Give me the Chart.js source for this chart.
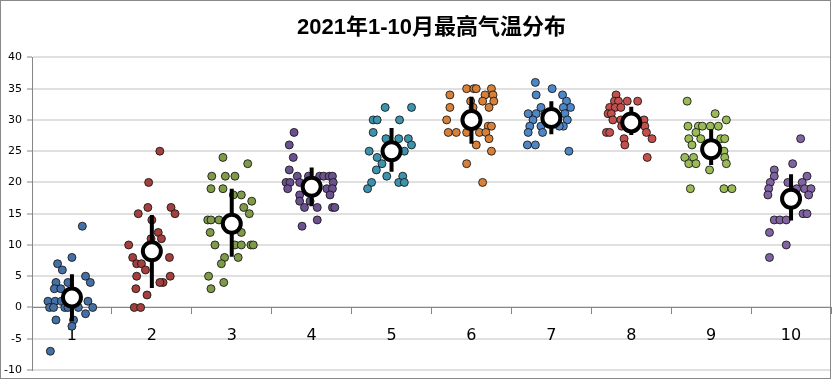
<!DOCTYPE html>
<html>
<head>
<meta charset="utf-8">
<script src="https://cdn.jsdelivr.net/npm/chart.js@4"></script>
<style>
  html, body { margin: 0; padding: 0; background: #fff; }
  canvas { display: block; }
</style>
</head>
<body>
<canvas id="chart" width="833" height="379"></canvas>
<script>
const months = [1, 2, 3, 4, 5, 6, 7, 8, 9, 10];

// daily max temperature per month, [x position (jittered), temp]
const m1 = [[1.13,13],[1.00,8],[0.82,7],[0.88,6],[1.17,5],[1.23,4],[0.80,4],[0.95,4],[0.78,3],[0.86,3],
  [0.70,1],[0.79,1],[0.87,1],[1.20,1],[0.72,0],[0.77,0],[0.91,0],[0.95,0],[1.26,0],[0.80,-2],
  [1.17,-1],[1.02,-2],[1.00,-3],[0.73,-7],[1.03,2],[0.97,1],[1.08,0]];
const m2 = [[2.10,25],[1.96,20],[1.95,16],[2.24,16],[1.83,15],[2.29,15],[2.00,14],[2.08,12],[2.12,11],[1.99,11],
  [1.71,10],[1.76,8],[2.22,8],[1.81,7],[1.87,7],[1.92,6],[1.81,5],[2.23,5],[1.80,3],[1.94,2],
  [2.14,4],[2.10,4],[1.78,0],[1.86,0]];
const m3 = [[2.89,24],[3.20,23],[2.75,21],[2.92,21],[3.04,21],[2.74,19],[2.89,19],[3.02,18],[3.12,18],[3.25,17],
  [3.15,16],[3.22,15],[2.70,14],[2.74,14],[2.84,14],[2.73,12],[3.12,12],[2.79,10],[3.04,10],[3.12,10],
  [3.24,10],[3.27,10],[2.91,8],[3.08,8],[2.87,7],[2.71,5],[2.90,4],[2.74,3]];
const m4 = [[3.78,28],[3.72,26],[3.77,24],[3.72,22],[3.82,21],[3.96,21],[4.10,21],[4.15,21],[4.22,21],[4.26,21],
  [3.68,20],[3.73,20],[3.85,20],[4.27,20],[3.70,19],[4.19,19],[4.26,19],[3.85,18],[4.23,18],[3.85,17],
  [3.98,17],[3.91,16],[4.07,16],[4.26,16],[4.29,16],[4.07,14],[3.88,13]];
const m5 = [[4.92,32],[5.25,32],[4.77,30],[4.82,30],[5.10,30],[4.77,28],[4.93,27],[5.09,27],[5.21,27],[5.25,26],
  [4.72,25],[5.16,25],[4.82,24],[4.88,23],[4.81,22],[4.94,21],[5.14,21],[4.75,20],[5.09,20],[5.16,20],
  [4.70,19],[4.98,26]];
const m6 = [[5.94,35],[6.03,35],[6.06,35],[6.25,35],[5.73,34],[6.17,34],[6.27,34],[5.99,33],[6.14,33],[6.28,33],
  [5.73,32],[6.02,32],[6.22,32],[5.69,30],[6.21,29],[6.25,29],[5.71,28],[5.81,28],[5.94,28],[6.10,28],
  [6.18,28],[6.22,27],[6.06,26],[6.25,25],[5.94,23],[6.14,20]];
const m7 = [[6.80,36],[7.01,35],[6.81,34],[7.14,34],[7.19,33],[6.87,32],[7.24,32],[7.15,32],[6.71,31],[6.81,31],
  [7.17,31],[6.77,30],[7.20,30],[6.73,29],[7.15,29],[6.87,29],[6.71,28],[6.89,28],[6.70,26],[6.80,26],
  [7.22,25],[6.92,31],[7.08,30],[7.10,29]];
const m8 = [[7.81,34],[7.79,33],[7.84,33],[7.95,33],[8.08,33],[7.73,32],[7.80,32],[7.87,32],[7.71,31],[7.75,31],
  [7.77,30],[7.87,30],[8.16,30],[8.17,29],[7.88,29],[8.19,28],[7.69,28],[7.73,28],[7.91,27],[8.26,27],
  [7.92,26],[8.20,24]];
const m9 = [[8.70,33],[9.05,31],[9.19,30],[8.71,29],[8.84,29],[8.89,29],[8.99,29],[9.09,29],[8.81,28],[8.72,27],
  [8.87,27],[9.12,27],[9.17,27],[8.76,26],[9.16,25],[8.67,24],[8.78,24],[9.17,24],[8.72,23],[8.81,23],
  [9.19,23],[8.98,22],[8.74,19],[9.16,19],[9.26,19]];
const m10 = [[10.12,27],[10.02,23],[9.79,22],[9.79,21],[10.20,21],[9.96,20],[10.14,20],[9.74,20],[9.72,19],[10.07,19],
  [10.17,19],[10.25,19],[9.71,18],[10.22,18],[9.79,14],[9.86,14],[9.94,14],[10.15,15],[10.20,15],[9.73,12],
  [9.94,10],[9.73,8]];

const monthData = [m1, m2, m3, m4, m5, m6, m7, m8, m9, m10];
const monthColors = ['#4470a5', '#a33f3c', '#7f9a48', '#6b5190', '#3d93ac',
                     '#d7803a', '#4f86c6', '#c4504d', '#9bbb59', '#8064a2'];

// monthly mean and error bar ends
const means = [1.6, 9.0, 13.4, 19.3, 25.0, 30.0, 30.3, 29.6, 25.3, 17.4];
const errLow = [-2.2, 3.1, 8.1, 16.2, 21.7, 26.2, 27.7, 27.6, 22.8, 13.9];
const errHigh = [5.3, 14.8, 19.0, 22.4, 28.7, 33.7, 33.0, 32.1, 28.5, 21.3];

const yTicks = [-10, -5, 0, 5, 10, 15, 20, 25, 30, 35, 40];

const errPoints = [];
months.forEach((m, i) => {
    errPoints.push({ x: m, y: errLow[i] }, { x: m, y: errHigh[i] }, { x: m, y: null });
});

const datasets = [
    {
        label: 'mean',
        type: 'scatter',
        data: months.map((m, i) => ({ x: m, y: means[i] })),
        pointRadius: 9,
        pointBorderWidth: 4,
        pointBackgroundColor: '#ffffff',
        pointBorderColor: '#000000'
    },
    {
        label: 'err',
        type: 'line',
        data: errPoints,
        borderColor: '#000000',
        borderWidth: 4,
        borderCapStyle: 'butt',
        pointRadius: 0,
        spanGaps: false,
        fill: false
    }
];
monthData.forEach((pts, i) => {
    datasets.push({
        label: String(months[i]),
        type: 'scatter',
        data: pts.map(p => ({ x: p[0], y: p[1] })),
        pointRadius: 4,
        pointBorderWidth: 1,
        pointBackgroundColor: monthColors[i],
        pointBorderColor: 'rgba(20,20,20,0.85)'
    });
});

const frame = {
    id: 'frame',
    afterDraw(chart) {
        const ctx = chart.ctx;
        ctx.save();
        ctx.strokeStyle = '#898989';
        ctx.lineWidth = 1;
        ctx.strokeRect(0.5, 0.5, 830, 378);
        ctx.restore();
    }
};

new Chart(document.getElementById('chart'), {
    type: 'scatter',
    data: { datasets },
    plugins: [frame],
    options: {
        responsive: false,
        animation: false,
        layout: { autoPadding: false, padding: { left: 0, right: 2, top: 0, bottom: 9 } },
        plugins: {
            legend: { display: false },
            tooltip: { enabled: false },
            title: {
                display: true,
                fullSize: false,
                text: '2021年1-10月最高气温分布',
                color: '#000',
                font: { family: '"Liberation Sans", "Noto Sans CJK SC", sans-serif', size: 22, weight: 'bold' },
                padding: { top: 15, bottom: 16 }
            }
        },
        scales: {
            x: {
                type: 'linear',
                min: 0.5,
                max: 10.5,
                position: { y: 0 },
                afterBuildTicks: axis => { axis.ticks = months.map(v => ({ value: v })); },
                ticks: {
                    color: '#000',
                    font: { family: '"DejaVu Sans", sans-serif', size: 16 },
                    padding: 13,
                    maxRotation: 0,
                    autoSkip: false
                },
                grid: {
                    drawOnChartArea: false,
                    offset: true,
                    tickLength: 6,
                    tickColor: '#868686',
                    tickWidth: 1
                },
                border: { color: '#868686', width: 1 }
            },
            y: {
                min: -10,
                max: 40,
                afterBuildTicks: axis => { axis.ticks = yTicks.map(v => ({ value: v })); },
                afterFit: s => { s.width = 32; s.paddingTop = 0; s.paddingBottom = 0; },
                ticks: {
                    color: '#000',
                    font: { family: '"DejaVu Sans", sans-serif', size: 11 },
                    padding: 5
                },
                grid: {
                    color: '#e0e0e0',
                    lineWidth: 2,
                    tickLength: 5,
                    tickColor: '#868686',
                    tickWidth: 1
                },
                border: { color: '#868686', width: 1 }
            }
        }
    }
});
</script>
</body>
</html>
